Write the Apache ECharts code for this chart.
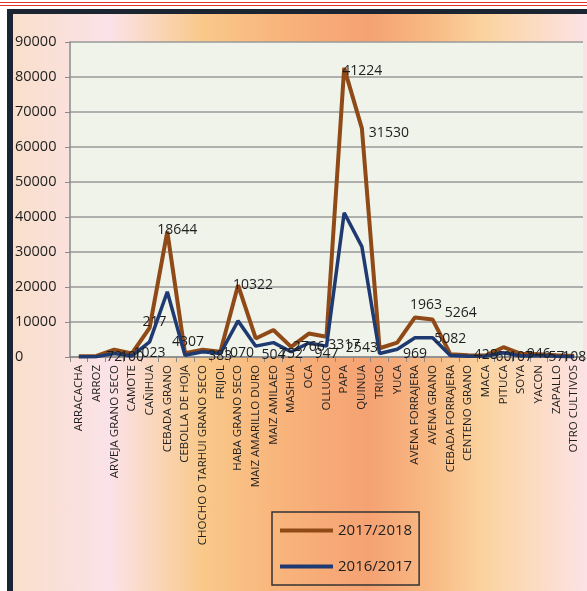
<!DOCTYPE html>
<html>
<head>
<meta charset="utf-8">
<script src="https://cdn.jsdelivr.net/npm/echarts@6/dist/echarts.min.js"></script>
<style>
  html, body { margin: 0; padding: 0; width: 587px; height: 591px; background: #ffffff; overflow: hidden; }
  #redlines { position: absolute; left: 0; top: 2px; width: 587px; height: 2px; border-top: 1.5px solid #e8302a; border-bottom: 1.5px solid #e8302a; }
  #frame { position: absolute; left: 7px; top: 9px; right: 0; bottom: 0;
    border-top: 5px solid #1b2532; border-left: 6px solid #1b2532;
    background: linear-gradient(to right, #f9dfcb 0%, #fbe2e8 17%, #f9c98a 33%, #f8b27a 48%, #f5a273 62%, #f8ba84 73%, #fbd39f 82%, #fcdcc6 92%, #fce2e6 100%); }
  #chart { position: absolute; left: 0; top: 0; width: 587px; height: 591px; }
</style>
</head>
<body>
<div id="redlines"></div>
<div id="frame"></div>
<div id="chart"></div>
<script>
// ---- data ----
const categories = ['ARRACACHA','ARROZ','ARVEJA GRANO SECO','CAMOTE','CAÑIHUA','CEBADA GRANO','CEBOLLA DE HOJA','CHOCHO O TARHUI GRANO SECO','FRIJOL','HABA GRANO SECO','MAIZ AMARILLO DURO','MAIZ AMILAEO','MASHUA','OCA','OLLUCO','PAPA','QUINUA','TRIGO','YUCA','AVENA FORRAJERA','AVENA GRANO','CEBADA FORRAJERA','CENTENO GRANO','MACA','PITUCA','SOYA','YACON','ZAPALLO','OTRO CULTIVOS'];
const seriesNames = ['2017/2018', '2016/2017'];
const values2016 = [100,100,1000,300,4300,18644,500,1500,1000,10322,3100,4100,1500,4000,3100,41224,31530,1000,2200,5500,5500,400,200,300,1200,300,400,200,100];
const values2017 = [100,200,1100,700,4000,17200,600,600,500,10200,2200,3600,1400,2700,2700,41400,33800,1500,1900,5800,5200,400,300,100,1600,600,400,300,200];
const upperLabels = [null,null,null,null,'217','18644','4307',null,null,'10322',null,null,null,null,null,'41224','31530',null,null,'1963','5264',null,null,null,null,null,null,null,null];
const baseLabelValues = [null,null,72,100,1023,null,null,null,383,1070,null,504,752,2766,947,3317,2543,null,null,969,null,5082,null,428,60,107,946,57,108];
const yTicks = { min: 0, max: 90000, interval: 10000 };

// ---- styles / layout ----
const labelOffsets = { 4: [5,-6], 5: [10,-2], 6: [3,-11], 9: [15,0], 15: [18,3], 16: [27,5], 19: [11,-12], 20: [28,-7] };
const FONT = 'Open Sans, DejaVu Sans, sans-serif';
const BROWN = '#8f4a17';
const BLUE = '#1f3a70';
const TEXT = '#1e1e1e';

const chart = echarts.init(document.getElementById('chart'), null, { renderer: 'canvas' });

const labelStyle = { color: TEXT, fontSize: 14, fontFamily: FONT, textBorderWidth: 0 };

const brownData = values2017.map((v, i) => {
  if (upperLabels[i] == null) return v;
  return {
    value: v,
    label: Object.assign({ show: true, position: 'inside', formatter: upperLabels[i], offset: labelOffsets[i] || [0, 0] }, labelStyle)
  };
});

chart.setOption({
  animation: false,
  backgroundColor: 'transparent',
  grid: { left: 70, right: 4, top: 42, bottom: 234, show: true, backgroundColor: '#eff3ea', borderWidth: 0 },
  legend: {
    data: seriesNames,
    orient: 'vertical',
    left: 272, top: 512,
    padding: [11, 7, 11, 8],
    itemWidth: 53, itemHeight: 4, itemGap: 21,
    icon: 'rect',
    borderColor: '#333', borderWidth: 1.5,
    textStyle: { fontSize: 15, color: TEXT, fontFamily: FONT }
  },
  xAxis: {
    type: 'category',
    data: categories,
    boundaryGap: true,
    axisLine: { lineStyle: { color: '#8a8a8a', width: 1.5 } },
    axisTick: { show: true, length: 5, lineStyle: { color: '#8a8a8a' } },
    axisLabel: { rotate: 90, interval: 0, fontSize: 11.5, color: TEXT, fontFamily: FONT, margin: 8 },
    splitLine: { show: false }
  },
  yAxis: {
    type: 'value',
    min: yTicks.min, max: yTicks.max, interval: yTicks.interval,
    axisLine: { show: true, lineStyle: { color: '#8a8a8a', width: 1.5 } },
    axisTick: { show: true, length: 5, lineStyle: { color: '#8a8a8a' } },
    axisLabel: { fontSize: 14.5, color: TEXT, fontFamily: FONT, align: 'left', margin: 55,
                 formatter: v => String(v) },
    splitLine: { show: true, lineStyle: { color: '#9a9a9a', width: 1.5 } }
  },
  series: [
    {
      name: seriesNames[1], type: 'line', stack: 'total',
      data: values2016,
      symbol: 'none',
      lineStyle: { color: BLUE, width: 3.5 },
      itemStyle: { color: BLUE },
      z: 3
    },
    {
      name: seriesNames[0], type: 'line', stack: 'total',
      data: brownData,
      symbol: 'circle', symbolSize: 0, showSymbol: true,
      lineStyle: { color: BROWN, width: 4 },
      itemStyle: { color: BROWN },
      z: 2
    },
    {
      name: 'labels', type: 'line',
      data: baseLabelValues,
      symbol: 'circle', symbolSize: 0, showSymbol: true,
      connectNulls: false,
      lineStyle: { width: 0, opacity: 0 },
      itemStyle: { color: TEXT },
      label: Object.assign({ show: true, position: 'inside', formatter: p => String(p.value) }, labelStyle),
      z: 5
    }
  ]
});
</script>
</body>
</html>
